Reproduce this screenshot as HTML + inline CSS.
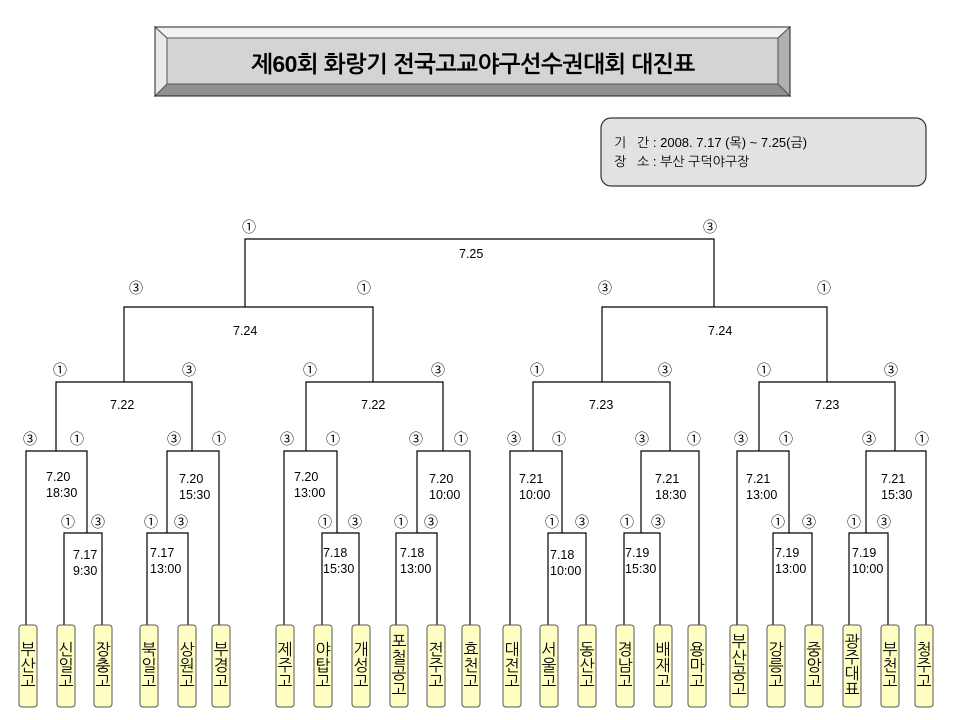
<!DOCTYPE html>
<html><head><meta charset="utf-8"><style>
html,body{margin:0;padding:0;background:#fff;}
svg{display:block;}
text{font-family:"Liberation Sans","NanumGothic","Noto Sans CJK KR",sans-serif;fill:#000;}
.c{font-size:14px;text-anchor:middle;}
.d{font-size:12.5px;}
.t{font-size:16px;text-anchor:middle;}
</style></head><body>
<svg width="960" height="720" viewBox="0 0 960 720" xmlns="http://www.w3.org/2000/svg">
<!-- title -->
<polygon points="155,27 790,27 778,38 167,38" fill="#f2f2f2" stroke="#555" stroke-width="1"/>
<polygon points="790,27 790,96 778,84 778,38" fill="#b0b0b0" stroke="#555" stroke-width="1"/>
<polygon points="155,96 790,96 778,84 167,84" fill="#909090" stroke="#555" stroke-width="1"/>
<polygon points="155,27 155,96 167,84 167,38" fill="#e8e8e8" stroke="#555" stroke-width="1"/>
<rect x="167" y="38" width="611" height="46" fill="#d4d4d4" stroke="#555"/>
<rect x="155" y="27" width="635" height="69" fill="none" stroke="#222"/>
<text x="473" y="72" text-anchor="middle" style="font-size:23px;font-weight:bold;letter-spacing:-0.5px">제60회 화랑기 전국고교야구선수권대회 대진표</text>
<!-- info -->
<rect x="601" y="118" width="325" height="68" rx="10" fill="#e2e2e2" stroke="#333" stroke-width="1.2"/>
<text x="614" y="147" style="font-size:13px">기&#160;&#160;&#160;간 : 2008. 7.17 (목) ~ 7.25(금)</text>
<text x="614" y="166" style="font-size:13px">장&#160;&#160;&#160;소 : 부산 구덕야구장</text>
<!-- brackets -->
<g fill="none" stroke="#000" stroke-width="1.2">
<path d="M245,307 V239 H714 V307"/>
<path d="M124,382 V307 H373 V382"/>
<path d="M602,382 V307 H827 V382"/>
<path d="M56,451 V382 H192 V451"/>
<path d="M306,451 V382 H443 V451"/>
<path d="M533,451 V382 H670 V451"/>
<path d="M759,451 V382 H895 V451"/>
<path d="M26,625 V451 H87 V533"/>
<path d="M64,625 V533 H102 V625"/>
<path d="M167,533 V451 H219 V625"/>
<path d="M147,625 V533 H188 V625"/>
<path d="M284,625 V451 H337 V533"/>
<path d="M322,625 V533 H359 V625"/>
<path d="M417,533 V451 H470 V625"/>
<path d="M396,625 V533 H437 V625"/>
<path d="M510,625 V451 H562 V533"/>
<path d="M548,625 V533 H586 V625"/>
<path d="M641,533 V451 H699 V625"/>
<path d="M624,625 V533 H660 V625"/>
<path d="M737,625 V451 H789 V533"/>
<path d="M773,625 V533 H812 V625"/>
<path d="M866,533 V451 H926 V625"/>
<path d="M849,625 V533 H888 V625"/>
</g>
<!-- circled numbers -->
<g>
<text x="249" y="232" class="c">①</text><text x="710" y="232" class="c">③</text>
<text x="136" y="293" class="c">③</text><text x="364" y="293" class="c">①</text><text x="605" y="293" class="c">③</text><text x="824" y="293" class="c">①</text>
<text x="60" y="375" class="c">①</text><text x="189" y="375" class="c">③</text><text x="310" y="375" class="c">①</text><text x="438" y="375" class="c">③</text>
<text x="537" y="375" class="c">①</text><text x="665" y="375" class="c">③</text><text x="764" y="375" class="c">①</text><text x="891" y="375" class="c">③</text>
<text x="30" y="444" class="c">③</text><text x="77" y="444" class="c">①</text><text x="174" y="444" class="c">③</text><text x="219" y="444" class="c">①</text>
<text x="287" y="444" class="c">③</text><text x="333" y="444" class="c">①</text><text x="416" y="444" class="c">③</text><text x="461" y="444" class="c">①</text>
<text x="514" y="444" class="c">③</text><text x="559" y="444" class="c">①</text><text x="642" y="444" class="c">③</text><text x="694" y="444" class="c">①</text>
<text x="741" y="444" class="c">③</text><text x="786" y="444" class="c">①</text><text x="869" y="444" class="c">③</text><text x="922" y="444" class="c">①</text>
<text x="68" y="527" class="c">①</text><text x="98" y="527" class="c">③</text><text x="151" y="527" class="c">①</text><text x="181" y="527" class="c">③</text>
<text x="325" y="527" class="c">①</text><text x="355" y="527" class="c">③</text><text x="401" y="527" class="c">①</text><text x="431" y="527" class="c">③</text>
<text x="552" y="527" class="c">①</text><text x="582" y="527" class="c">③</text><text x="627" y="527" class="c">①</text><text x="658" y="527" class="c">③</text>
<text x="778" y="527" class="c">①</text><text x="809" y="527" class="c">③</text><text x="854" y="527" class="c">①</text><text x="884" y="527" class="c">③</text>
</g>
<!-- dates -->
<g>
<text x="459" y="258" class="d">7.25</text>
<text x="233" y="335" class="d">7.24</text><text x="708" y="335" class="d">7.24</text>
<text x="110" y="409" class="d">7.22</text><text x="361" y="409" class="d">7.22</text>
<text x="589" y="409" class="d">7.23</text><text x="815" y="409" class="d">7.23</text>
<text x="46" y="481" class="d">7.20</text><text x="46" y="497" class="d">18:30</text>
<text x="179" y="483" class="d">7.20</text><text x="179" y="499" class="d">15:30</text>
<text x="294" y="481" class="d">7.20</text><text x="294" y="497" class="d">13:00</text>
<text x="429" y="483" class="d">7.20</text><text x="429" y="499" class="d">10:00</text>
<text x="519" y="483" class="d">7.21</text><text x="519" y="499" class="d">10:00</text>
<text x="655" y="483" class="d">7.21</text><text x="655" y="499" class="d">18:30</text>
<text x="746" y="483" class="d">7.21</text><text x="746" y="499" class="d">13:00</text>
<text x="881" y="483" class="d">7.21</text><text x="881" y="499" class="d">15:30</text>
<text x="73" y="559" class="d">7.17</text><text x="73" y="575" class="d">9:30</text>
<text x="150" y="557" class="d">7.17</text><text x="150" y="573" class="d">13:00</text>
<text x="323" y="557" class="d">7.18</text><text x="323" y="573" class="d">15:30</text>
<text x="400" y="557" class="d">7.18</text><text x="400" y="573" class="d">13:00</text>
<text x="550" y="559" class="d">7.18</text><text x="550" y="575" class="d">10:00</text>
<text x="625" y="557" class="d">7.19</text><text x="625" y="573" class="d">15:30</text>
<text x="775" y="557" class="d">7.19</text><text x="775" y="573" class="d">13:00</text>
<text x="852" y="557" class="d">7.19</text><text x="852" y="573" class="d">10:00</text>
</g>
<!-- team boxes -->
<g fill="#ffffc4" stroke="#555" stroke-width="1">
<rect x="19" y="625" width="18" height="82" rx="3"/>
<rect x="57" y="625" width="18" height="82" rx="3"/>
<rect x="94" y="625" width="18" height="82" rx="3"/>
<rect x="140" y="625" width="18" height="82" rx="3"/>
<rect x="178" y="625" width="18" height="82" rx="3"/>
<rect x="212" y="625" width="18" height="82" rx="3"/>
<rect x="276" y="625" width="18" height="82" rx="3"/>
<rect x="314" y="625" width="18" height="82" rx="3"/>
<rect x="352" y="625" width="18" height="82" rx="3"/>
<rect x="390" y="625" width="18" height="82" rx="3"/>
<rect x="427" y="625" width="18" height="82" rx="3"/>
<rect x="462" y="625" width="18" height="82" rx="3"/>
<rect x="503" y="625" width="18" height="82" rx="3"/>
<rect x="540" y="625" width="18" height="82" rx="3"/>
<rect x="578" y="625" width="18" height="82" rx="3"/>
<rect x="616" y="625" width="18" height="82" rx="3"/>
<rect x="654" y="625" width="18" height="82" rx="3"/>
<rect x="688" y="625" width="18" height="82" rx="3"/>
<rect x="730" y="625" width="18" height="82" rx="3"/>
<rect x="767" y="625" width="18" height="82" rx="3"/>
<rect x="805" y="625" width="18" height="82" rx="3"/>
<rect x="843" y="625" width="18" height="82" rx="3"/>
<rect x="881" y="625" width="18" height="82" rx="3"/>
<rect x="915" y="625" width="18" height="82" rx="3"/>
</g>
<g>
<text class="t" x="28" y="655"><tspan x="28">부</tspan><tspan x="28" dy="16">산</tspan><tspan x="28" dy="16">고</tspan></text>
<text class="t" x="66" y="655"><tspan x="66">신</tspan><tspan x="66" dy="16">일</tspan><tspan x="66" dy="16">고</tspan></text>
<text class="t" x="103" y="655"><tspan x="103">장</tspan><tspan x="103" dy="16">충</tspan><tspan x="103" dy="16">고</tspan></text>
<text class="t" x="149" y="655"><tspan x="149">북</tspan><tspan x="149" dy="16">일</tspan><tspan x="149" dy="16">고</tspan></text>
<text class="t" x="187" y="655"><tspan x="187">상</tspan><tspan x="187" dy="16">원</tspan><tspan x="187" dy="16">고</tspan></text>
<text class="t" x="221" y="655"><tspan x="221">부</tspan><tspan x="221" dy="16">경</tspan><tspan x="221" dy="16">고</tspan></text>
<text class="t" x="285" y="655"><tspan x="285">제</tspan><tspan x="285" dy="16">주</tspan><tspan x="285" dy="16">고</tspan></text>
<text class="t" x="323" y="655"><tspan x="323">야</tspan><tspan x="323" dy="16">탑</tspan><tspan x="323" dy="16">고</tspan></text>
<text class="t" x="361" y="655"><tspan x="361">개</tspan><tspan x="361" dy="16">성</tspan><tspan x="361" dy="16">고</tspan></text>
<text class="t" x="399" y="647"><tspan x="399">포</tspan><tspan x="399" dy="16">철</tspan><tspan x="399" dy="16">공</tspan><tspan x="399" dy="16">고</tspan></text>
<text class="t" x="436" y="655"><tspan x="436">전</tspan><tspan x="436" dy="16">주</tspan><tspan x="436" dy="16">고</tspan></text>
<text class="t" x="471" y="655"><tspan x="471">효</tspan><tspan x="471" dy="16">천</tspan><tspan x="471" dy="16">고</tspan></text>
<text class="t" x="512" y="655"><tspan x="512">대</tspan><tspan x="512" dy="16">전</tspan><tspan x="512" dy="16">고</tspan></text>
<text class="t" x="549" y="655"><tspan x="549">서</tspan><tspan x="549" dy="16">울</tspan><tspan x="549" dy="16">고</tspan></text>
<text class="t" x="587" y="655"><tspan x="587">동</tspan><tspan x="587" dy="16">산</tspan><tspan x="587" dy="16">고</tspan></text>
<text class="t" x="625" y="655"><tspan x="625">경</tspan><tspan x="625" dy="16">남</tspan><tspan x="625" dy="16">고</tspan></text>
<text class="t" x="663" y="655"><tspan x="663">배</tspan><tspan x="663" dy="16">재</tspan><tspan x="663" dy="16">고</tspan></text>
<text class="t" x="697" y="655"><tspan x="697">용</tspan><tspan x="697" dy="16">마</tspan><tspan x="697" dy="16">고</tspan></text>
<text class="t" x="739" y="647"><tspan x="739">부</tspan><tspan x="739" dy="16">산</tspan><tspan x="739" dy="16">공</tspan><tspan x="739" dy="16">고</tspan></text>
<text class="t" x="776" y="655"><tspan x="776">강</tspan><tspan x="776" dy="16">릉</tspan><tspan x="776" dy="16">고</tspan></text>
<text class="t" x="814" y="655"><tspan x="814">중</tspan><tspan x="814" dy="16">앙</tspan><tspan x="814" dy="16">고</tspan></text>
<text class="t" x="852" y="647"><tspan x="852">광</tspan><tspan x="852" dy="16">주</tspan><tspan x="852" dy="16">대</tspan><tspan x="852" dy="16">표</tspan></text>
<text class="t" x="890" y="655"><tspan x="890">부</tspan><tspan x="890" dy="16">천</tspan><tspan x="890" dy="16">고</tspan></text>
<text class="t" x="924" y="655"><tspan x="924">청</tspan><tspan x="924" dy="16">주</tspan><tspan x="924" dy="16">고</tspan></text>
</g>
</svg>
</body></html>
